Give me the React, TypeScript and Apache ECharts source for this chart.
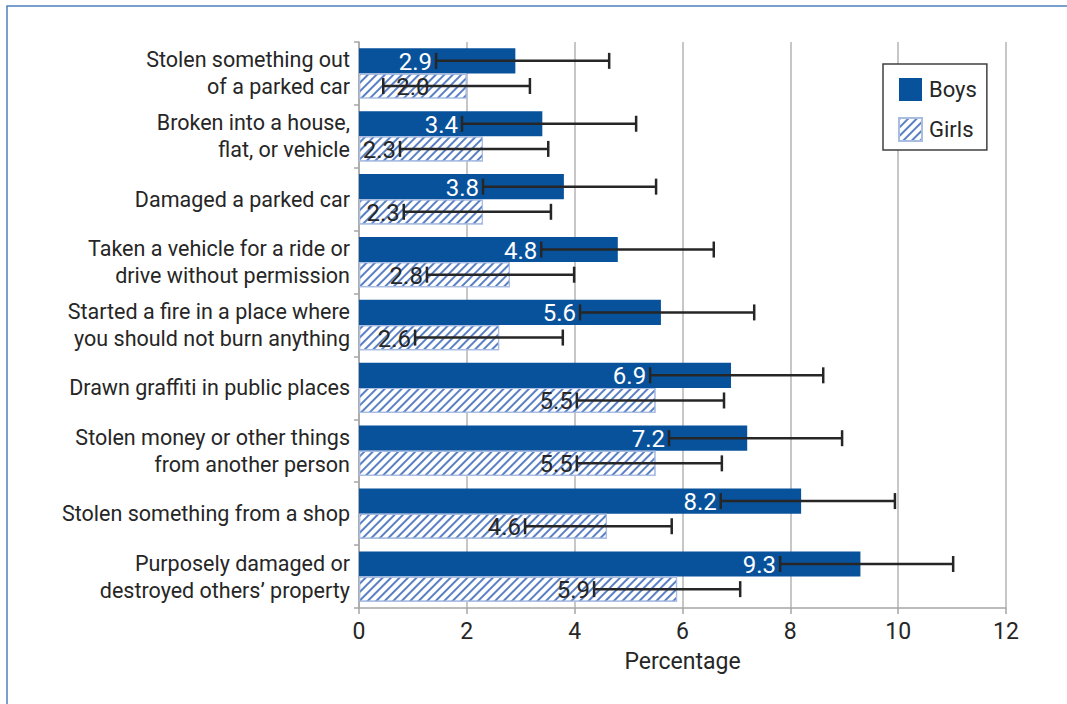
import React, { useEffect, useRef } from "react";
import * as echarts from "echarts";

const categories = [
  "Stolen something out\nof a parked car",
  "Broken into a house,\nflat, or vehicle",
  "Damaged a parked car",
  "Taken a vehicle for a ride or\ndrive without permission",
  "Started a fire in a place where\nyou should not burn anything",
  "Drawn graffiti in public places",
  "Stolen money or other things\nfrom another person",
  "Stolen something from a shop",
  "Purposely damaged or\ndestroyed others’ property",
];
const boys = [2.9, 3.4, 3.8, 4.8, 5.6, 6.9, 7.2, 8.2, 9.3];
const girls = [2.0, 2.3, 2.3, 2.8, 2.6, 5.5, 5.5, 4.6, 5.9];
const boysLow = [1.43, 1.91, 2.3, 3.38, 4.1, 5.4, 5.75, 6.71, 7.81];
const boysHigh = [4.64, 5.14, 5.51, 6.58, 7.33, 8.61, 8.96, 9.94, 11.02];
const girlsLow = [0.45, 0.76, 0.83, 1.26, 1.04, 4.04, 4.04, 3.08, 4.36];
const girlsHigh = [3.17, 3.51, 3.56, 3.99, 3.78, 6.77, 6.73, 5.8, 7.07];
const xTicks = [0, 2, 4, 6, 8, 10, 12];

const FONT = "Roboto, 'Noto Sans', sans-serif";
const BLUE = "#08529c";
const DARK = "#262626";

let measureCtx: CanvasRenderingContext2D | null = null;
function textWidth(t: string, size: number) {
  if (!measureCtx) measureCtx = document.createElement("canvas").getContext("2d");
  if (!measureCtx) return t.length * size * 0.45;
  measureCtx.font = `${size}px ${FONT}`;
  return measureCtx.measureText(t).width;
}

function errSeries(name: string, lows: number[], highs: number[], vals: number[], sign: number, labelColor: string) {
  return {
    type: "custom",
    name: name + "-err",
    z: 10,
    silent: true,
    encode: { x: [0, 1, 3], y: 2 },
    data: lows.map((l, i) => [l, highs[i], i, vals[i]]),
    renderItem: (params: any, api: any) => {
      const cat = api.value(2);
      const lo = api.coord([api.value(0), cat]);
      const hi = api.coord([api.value(1), cat]);
      const zero = api.coord([0, cat]);
      const valPt = api.coord([api.value(3), cat]);
      const band = api.size([0, 1])[1];
      const y = lo[1] + sign * band * 0.2;
      const cap = 8;
      const txt = api.value(3).toFixed(1);
      const fs = 24;
      const w = textWidth(txt, fs);
      let tx = lo[0] - 4;
      let align = "right";
      if (tx - w < zero[0] + 2) {
        tx = (zero[0] + valPt[0]) / 2;
        align = "center";
      }
      const ls = { stroke: DARK, lineWidth: 2.5 };
      return {
        type: "group",
        children: [
          { type: "text", z2: 1, style: { text: txt, x: tx, y: y + 1, align, verticalAlign: "middle", fill: labelColor, fontSize: fs, fontFamily: FONT } },
          { type: "line", z2: 2, shape: { x1: lo[0], y1: y, x2: hi[0], y2: y }, style: ls },
          { type: "line", z2: 2, shape: { x1: lo[0], y1: y - cap, x2: lo[0], y2: y + cap }, style: ls },
          { type: "line", z2: 2, shape: { x1: hi[0], y1: y - cap, x2: hi[0], y2: y + cap }, style: ls },
        ],
      };
    },
  };
}

export default function App() {
  const ref = useRef<HTMLDivElement>(null);
  useEffect(() => {
    if (!ref.current) return;
    const chart = echarts.init(ref.current, undefined, { renderer: "svg" });
    const decal = {
      symbol: "rect",
      symbolSize: 1,
      color: "#5a80c4",
      dashArrayX: [1, 0],
      dashArrayY: [1.1, 3.3],
      rotation: -Math.PI / 4,
    };
    chart.setOption({
      animation: false,
      backgroundColor: "#ffffff",
      textStyle: { fontFamily: FONT },
      graphic: [
        {
          type: "rect",
          shape: { x: 7, y: 6, width: 1200, height: 900 },
          style: { fill: "none", stroke: "#4f7fbf", lineWidth: 1.5 },
          silent: true,
        },
      ],
      grid: { left: 359, right: 61, top: 42, bottom: 96, containLabel: false },
      legend: {
        orient: "vertical",
        left: 883,
        top: 64,
        padding: [14, 10, 8, 15],
        itemGap: 16,
        itemWidth: 23,
        itemHeight: 23,
        backgroundColor: "#ffffff",
        borderColor: "#404040",
        borderWidth: 1.5,
        borderRadius: 0,
        textStyle: { fontSize: 22, color: DARK, fontFamily: FONT, padding: [0, 0, 0, 2] },
        data: [
          { name: "Boys", icon: "rect" },
          { name: "Girls", icon: "rect" },
        ],
      },
      xAxis: {
        type: "value",
        min: 0,
        max: 12,
        interval: 2,
        name: "Percentage",
        nameLocation: "middle",
        nameGap: 42,
        nameTextStyle: { fontSize: 23, color: DARK, fontFamily: FONT },
        axisLine: { show: true, lineStyle: { color: "#a6a6a6", width: 1.5 } },
        axisTick: { show: true, length: 6, lineStyle: { color: "#a6a6a6", width: 1.5 } },
        splitLine: { show: true, lineStyle: { color: "#b5b5b5", width: 1.5 } },
        axisLabel: {
          fontSize: 23,
          color: DARK,
          margin: 12,
          fontFamily: FONT,
          formatter: (v: number) => (xTicks.includes(v) ? String(v) : ""),
        },
      },
      yAxis: {
        type: "category",
        inverse: true,
        data: categories,
        axisLine: { show: true, lineStyle: { color: "#a6a6a6", width: 1.5 } },
        axisTick: { show: true, length: 5, alignWithLabel: false, lineStyle: { color: "#a6a6a6", width: 1.5 } },
        axisLabel: { fontSize: 21.5, color: DARK, margin: 9, lineHeight: 27, align: "right", fontFamily: FONT },
      },
      series: [
        {
          type: "bar",
          name: "Boys",
          data: boys,
          barGap: "0%",
          barCategoryGap: "20%",
          itemStyle: { color: BLUE },
        },
        {
          type: "bar",
          name: "Girls",
          data: girls,
          barGap: "0%",
          barCategoryGap: "20%",
          itemStyle: { color: "#ffffff", borderColor: "#a9bde2", borderWidth: 1.2, decal },
        },
        errSeries("Boys", boysLow, boysHigh, boys, -1, "#ffffff"),
        errSeries("Girls", girlsLow, girlsHigh, girls, 1, DARK),
      ],
    });
    return () => chart.dispose();
  }, []);
  return <div ref={ref} style={{ position: "fixed", left: 0, top: 0, width: 1067, height: 704 }} />;
}
